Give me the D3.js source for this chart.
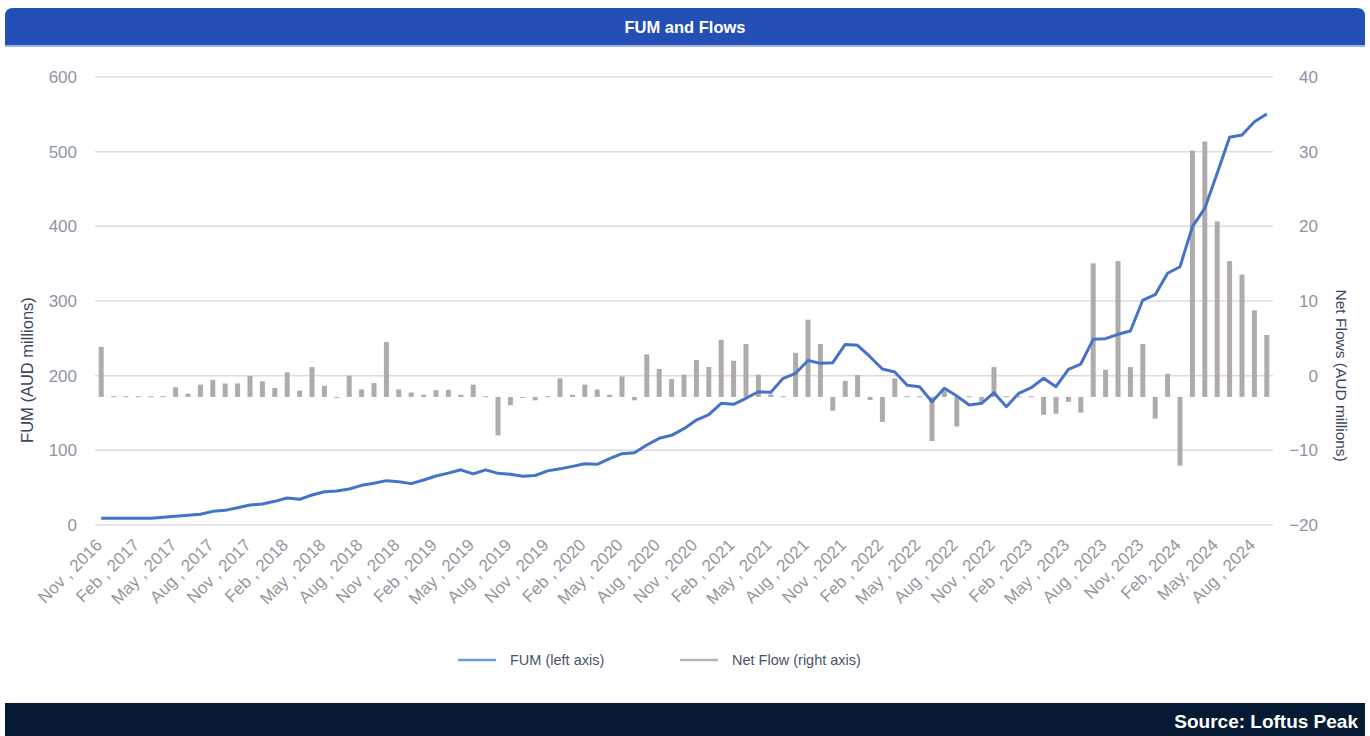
<!DOCTYPE html>
<html>
<head>
<meta charset="utf-8">
<script src="https://cdn.jsdelivr.net/npm/d3@7"></script>
<style>
  body { margin: 0; background: #fff; font-family: "Liberation Sans", Arial, sans-serif; }
</style>
</head>
<body>
<div id="chart"></div>
<script>

// months, Nov 2016 .. Sep 2024
const months = [
  "2016-11","2016-12","2017-01","2017-02","2017-03","2017-04","2017-05","2017-06","2017-07","2017-08","2017-09","2017-10","2017-11","2017-12",
  "2018-01","2018-02","2018-03","2018-04","2018-05","2018-06","2018-07","2018-08","2018-09","2018-10","2018-11","2018-12",
  "2019-01","2019-02","2019-03","2019-04","2019-05","2019-06","2019-07","2019-08","2019-09","2019-10","2019-11","2019-12",
  "2020-01","2020-02","2020-03","2020-04","2020-05","2020-06","2020-07","2020-08","2020-09","2020-10","2020-11","2020-12",
  "2021-01","2021-02","2021-03","2021-04","2021-05","2021-06","2021-07","2021-08","2021-09","2021-10","2021-11","2021-12",
  "2022-01","2022-02","2022-03","2022-04","2022-05","2022-06","2022-07","2022-08","2022-09","2022-10","2022-11","2022-12",
  "2023-01","2023-02","2023-03","2023-04","2023-05","2023-06","2023-07","2023-08","2023-09","2023-10","2023-11","2023-12",
  "2024-01","2024-02","2024-03","2024-04","2024-05","2024-06","2024-07","2024-08","2024-09"
];

// FUM, AUD millions (left axis)
const fum = [
  9, 9, 9, 9, 9, 10.3, 11.6, 13, 14.3, 18.3,
  19.6, 23.2, 26.8, 28.1, 31.7, 36.2, 34.4, 40.2, 44.6, 45.5,
  48.2, 53.1, 55.8, 59.4, 58.0, 55.4, 60.3, 65.6, 69.5, 73.9,
  68.5, 73.9, 69.2, 67.9, 65.2, 66.3, 72.5, 75.2, 78.5, 82.1,
  81.3, 88.8, 95.5, 96.8, 107.1, 116.1, 120.1, 129, 140.6, 147.7,
  163, 161.6, 169.7, 178.5, 177.7, 196.5, 203.2, 220.3, 216.5, 217.4,
  241.8, 240.7, 225.4, 208.9, 205, 187.1, 185.2, 165.1, 183.1, 172.8,
  160.7, 163, 177.2, 158.4, 176.4, 183.9, 196.5, 185.2, 208.5, 215.6,
  248.7, 249.5, 255.4, 259.8, 301.3, 308.4, 337.1, 345.9, 399.5, 424.1,
  471, 519.2, 522.3, 540.1, 550.4
];

// net flows, AUD millions (right axis)
const netFlow = [
  6.7, 0.1, 0.1, 0.1, 0.1, 0.1, 1.3, 0.45, 1.65, 2.3,
  1.8, 1.8, 2.8, 2.1, 1.2, 3.3, 0.85, 4.0, 1.5, -0.1,
  2.85, 1.0, 1.85, 7.35, 1.0, 0.6, 0.3, 0.9, 0.95, 0.3,
  1.65, 0.1, -5.15, -1.1, -0.1, -0.45, 0.1, 2.5, 0.3, 1.65,
  1.0, 0.3, 2.75, -0.45, 5.7, 3.75, 2.4, 3.0, 4.95, 4.0,
  7.65, 4.85, 7.1, 3.0, 0.33, 0.1, 5.9, 10.35, 7.1, -1.85,
  2.15, 2.95, -0.4, -3.35, 2.5, 0.1, 0.1, -5.9, 0.78, -3.95,
  0.1, -0.6, 4.0, 0.1, 0.1, 0.1, -2.4, -2.25, -0.65, -2.1,
  17.9, 3.65, 18.2, 4.0, 7.1, -2.9, 3.1, -9.2, 33.0, 34.2,
  23.5, 18.2, 16.4, 11.6, 8.3
];

const leftTicks = [0, 100, 200, 300, 400, 500, 600];
const rightTicks = [-20, -10, 0, 10, 20, 30, 40];

// x labels every third month
const tickMonths = months.filter((d, i) => i % 3 === 0);
const tickLabels = [
  "Nov , 2016","Feb , 2017","May , 2017","Aug , 2017","Nov , 2017","Feb , 2018","May , 2018","Aug , 2018",
  "Nov , 2018","Feb , 2019","May , 2019","Aug , 2019","Nov , 2019","Feb , 2020","May , 2020","Aug , 2020",
  "Nov , 2020","Feb , 2021","May , 2021","Aug , 2021","Nov , 2021","Feb , 2022","May , 2022","Aug , 2022",
  "Nov , 2022","Feb , 2023","May , 2023","Aug , 2023","Nov, 2023","Feb, 2024","May, 2024","Aug , 2024"
];

const W = 1370, H = 736;
const plot = { left: 95, right: 1273, top: 77, bottom: 525 };
// the bars sit on their own zero, a bit under the right axis zero
const flowZeroOnAxis = -2.85;

const svg = d3.select("#chart").append("svg")
    .attr("width", W)
    .attr("height", H);

// header
svg.append("path")
    .attr("d", "M5,46 V16 Q5,8 13,8 H1357 Q1365,8 1365,16 V46 Z")
    .attr("fill", "#234fb6");
svg.append("rect")
    .attr("x", 5).attr("y", 45).attr("width", 1360).attr("height", 2)
    .attr("fill", "#9fb3e0");
svg.append("text")
    .attr("x", 685).attr("y", 33)
    .attr("text-anchor", "middle")
    .attr("fill", "#fff")
    .style("font-size", "16.5px")
    .style("font-weight", "bold")
    .text("FUM and Flows");

const x = d3.scaleBand()
    .domain(months)
    .range([plot.left, plot.right])
    .padding(0);
const xc = d => x(d) + x.bandwidth() / 2;

const yL = d3.scaleLinear().domain([0, 600]).range([plot.bottom, plot.top]);
const yR = d3.scaleLinear().domain([-20, 40]).range([plot.bottom, plot.top]);
const yFlow = d3.scaleLinear()
    .domain([-20 - flowZeroOnAxis, 40 - flowZeroOnAxis])
    .range([plot.bottom, plot.top]);

// grid
svg.append("g")
    .selectAll("line")
    .data(leftTicks)
    .enter().append("line")
    .attr("x1", plot.left).attr("x2", plot.right)
    .attr("y1", d => yL(d)).attr("y2", d => yL(d))
    .attr("stroke", "#dcdcdc")
    .attr("stroke-width", 1.5);

// left axis
const leftAxis = svg.append("g")
    .attr("transform", `translate(${plot.left},0)`)
    .call(d3.axisLeft(yL).tickValues(leftTicks).tickSize(0).tickPadding(18));
leftAxis.select(".domain").remove();
leftAxis.selectAll("text")
    .attr("fill", "#8d95a3")
    .style("font-size", "17px")
    .style("font-family", "Liberation Sans, Arial, sans-serif");

// right axis
const rightAxis = svg.append("g")
    .attr("transform", `translate(${plot.right},0)`)
    .call(d3.axisRight(yR).tickValues(rightTicks).tickSize(0).tickPadding(45));
rightAxis.select(".domain").remove();
rightAxis.selectAll("text")
    .attr("text-anchor", "end")
    .attr("fill", "#8d95a3")
    .style("font-size", "17px")
    .style("font-family", "Liberation Sans, Arial, sans-serif");

// axis titles
svg.append("text")
    .attr("transform", `translate(33,370) rotate(-90)`)
    .attr("text-anchor", "middle")
    .attr("fill", "#3a475c")
    .style("font-size", "16.5px")
    .text("FUM (AUD millions)");
svg.append("text")
    .attr("transform", `translate(1336,${yR(0)}) rotate(90)`)
    .attr("text-anchor", "middle")
    .attr("fill", "#3a475c")
    .style("font-size", "15.5px")
    .text("Net Flows (AUD millions)");

// bars
const bw = 5;
svg.append("g")
    .selectAll("rect")
    .data(netFlow)
    .enter().append("rect")
    .attr("x", (d, i) => xc(months[i]) - bw / 2)
    .attr("width", bw)
    .attr("y", d => Math.min(yFlow(d), yFlow(0)))
    .attr("height", d => Math.max(1, Math.abs(yFlow(d) - yFlow(0))))
    .attr("fill", "#b0abab");

// FUM line
const line = d3.line()
    .x((d, i) => xc(months[i]))
    .y(d => yL(d));
svg.append("path")
    .datum(fum)
    .attr("d", line)
    .attr("fill", "none")
    .attr("stroke", "#4573c8")
    .attr("stroke-width", 3)
    .attr("stroke-linejoin", "round");

// x labels
svg.append("g")
    .selectAll("text")
    .data(tickMonths)
    .enter().append("text")
    .attr("transform", d => `translate(${xc(d) + 2},${plot.bottom + 21}) rotate(-45)`)
    .attr("text-anchor", "end")
    .attr("fill", "#95989d")
    .style("font-size", "17px")
    .text((d, i) => tickLabels[i]);

// legend
const legend = [
  { label: "FUM (left axis)", color: "#6d9ad8", x: 458 },
  { label: "Net Flow (right axis)", color: "#b5b3b3", x: 680 }
];
const lg = svg.append("g").selectAll("g")
    .data(legend)
    .enter().append("g")
    .attr("transform", d => `translate(${d.x},660)`);
lg.append("line")
    .attr("x1", 0).attr("x2", 38)
    .attr("stroke", d => d.color)
    .attr("stroke-width", 2.5);
lg.append("text")
    .attr("x", 52).attr("dy", "0.35em")
    .attr("fill", "#4a5468")
    .style("font-size", "14.5px")
    .text(d => d.label);

// footer
svg.append("rect")
    .attr("x", 5).attr("y", 703).attr("width", 1360).attr("height", 33)
    .attr("fill", "#061a33");
svg.append("text")
    .attr("x", 1358).attr("y", 728)
    .attr("text-anchor", "end")
    .attr("fill", "#fff")
    .style("font-size", "19px")
    .style("font-weight", "bold")
    .text("Source: Loftus Peak");

</script>
</body>
</html>
